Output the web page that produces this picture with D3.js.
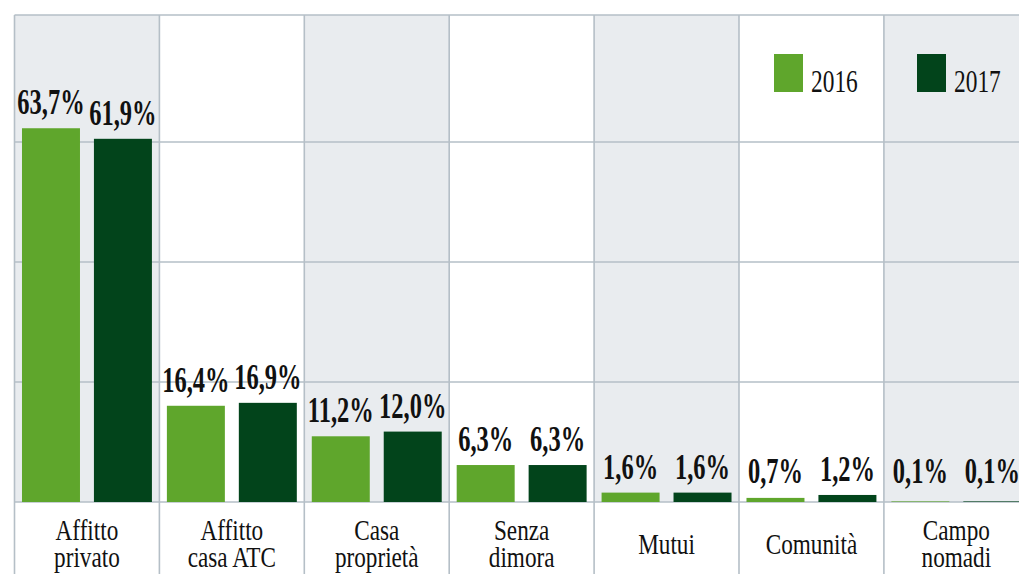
<!DOCTYPE html>
<html>
<head>
<meta charset="utf-8">
<script src="https://cdn.jsdelivr.net/npm/d3@7"></script>
<style>
  html, body { margin: 0; padding: 0; background: #fff; }
  svg { display: block; }
</style>
</head>
<body>
<svg id="chart" width="1019" height="574"></svg>
<script>
const categories = ["Affitto privato", "Affitto casa ATC", "Casa proprietà", "Senza dimora", "Mutui", "Comunità", "Campo nomadi"];
const categoryLines = [["Affitto", "privato"], ["Affitto", "casa ATC"], ["Casa", "proprietà"], ["Senza", "dimora"], ["Mutui"], ["Comunità"], ["Campo", "nomadi"]];
const years = ["2016", "2017"];
const values2016 = [63.7, 16.4, 11.2, 6.3, 1.6, 0.7, 0.1];
const values2017 = [61.9, 16.9, 12.0, 6.3, 1.6, 1.2, 0.1];
const gridTicks = [0, 20.45, 40.9, 61.35];
const yMax = 83;

(function () {
const colors = { "2016": "#5fa62c", "2017": "#02441b" };
const gridColor = "#b5bfc7";
const bandGray = "#e9ecef";

const svg = d3.select("#chart");
const W = 1019, H = 574;
const mLeft = 14.5, mTop = 15, mBottom = 502;
const colW = 144.9;

const x = d3.scaleBand().domain(categories).range([mLeft, mLeft + colW * categories.length]).padding(0);
const xs = d3.scaleBand().domain(years).range([0, x.bandwidth()]).paddingInner(0.194).paddingOuter(0.104);
const y = d3.scaleLinear().domain([0, yMax]).range([mBottom, mTop]);

const fmt = v => d3.format(".1f")(v).replace(".", ",") + "%";

// background bands
svg.append("g").selectAll("rect").data(categories).join("rect")
  .attr("x", d => x(d)).attr("y", mTop)
  .attr("width", x.bandwidth()).attr("height", mBottom - mTop)
  .attr("fill", (d, i) => i % 2 === 0 ? bandGray : "#ffffff");

// horizontal gridlines
const grid = svg.append("g");
grid.selectAll("line.h").data(gridTicks).join("line").attr("class", "h")
  .attr("x1", mLeft).attr("x2", W)
  .attr("y1", d => y(d)).attr("y2", d => y(d))
  .attr("stroke", gridColor).attr("stroke-width", 1.6);
grid.append("line").attr("x1", mLeft).attr("x2", W).attr("y1", mTop).attr("y2", mTop)
  .attr("stroke", gridColor).attr("stroke-width", 1.6);

// vertical separators
grid.selectAll("line.v").data(categories).join("line").attr("class", "v")
  .attr("x1", d => x(d)).attr("x2", d => x(d))
  .attr("y1", mTop).attr("y2", H)
  .attr("stroke", gridColor).attr("stroke-width", 1.6);

// bars
const series = years.map((yr, k) => ({ year: yr, values: k === 0 ? values2016 : values2017 }));
const bars = svg.append("g");
series.forEach(s => {
  bars.selectAll(null).data(s.values).join("rect")
    .attr("x", (v, i) => x(categories[i]) + xs(s.year))
    .attr("y", v => y(v))
    .attr("width", xs.bandwidth())
    .attr("height", v => mBottom - y(v))
    .attr("fill", colors[s.year]);
  bars.selectAll(null).data(s.values).join("text")
    .attr("transform", (v, i) => {
      const cx = x(categories[i]) + xs(s.year) + xs.bandwidth() / 2;
      const by = Math.min(y(v) - 14, 483);
      return `translate(${cx},${by}) scale(0.7,1)`;
    })
    .attr("text-anchor", "middle")
    .attr("font-family", "'Liberation Serif', 'Times New Roman', serif")
    .attr("font-weight", "bold")
    .attr("font-size", 35)
    .attr("fill", "#111")
    .text(v => fmt(v));
});

// category labels
const labels = svg.append("g");
categoryLines.forEach((lines, i) => {
  const cx = x(categories[i]) + x.bandwidth() / 2;
  const baseY = lines.length === 2 ? 540 : 554;
  lines.forEach((ln, j) => {
    labels.append("text")
      .attr("transform", `translate(${cx},${baseY + j * 26.5}) scale(0.8,1)`)
      .attr("text-anchor", "middle")
      .attr("font-family", "'Liberation Serif', 'Times New Roman', serif")
      .attr("font-size", 29)
      .attr("fill", "#111")
      .text(ln);
  });
});

// legend
const legendX = [774, 917];
const legend = svg.append("g");
years.forEach((yr, k) => {
  legend.append("rect").attr("x", legendX[k]).attr("y", 54).attr("width", 29).attr("height", 38)
    .attr("fill", colors[yr]);
  legend.append("text")
    .attr("transform", `translate(${legendX[k] + 37},92) scale(0.72,1)`)
    .attr("font-family", "'Liberation Serif', 'Times New Roman', serif")
    .attr("font-size", 32.5)
    .attr("fill", "#111")
    .text(yr);
});
})();
</script>
</body>
</html>
